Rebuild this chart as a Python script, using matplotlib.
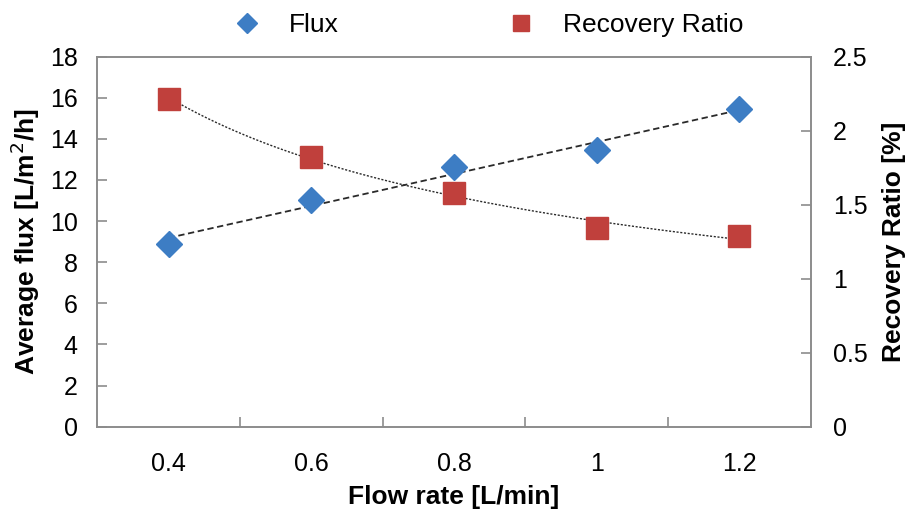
import numpy as np
import matplotlib
matplotlib.use('Agg')
import matplotlib.pyplot as plt
from matplotlib.lines import Line2D

plt.rcParams['font.family'] = ['Liberation Sans', 'DejaVu Sans']

# data
flow_rate = [0.4, 0.6, 0.8, 1.0, 1.2]
flux = [8.9, 11.0, 12.65, 13.45, 15.45]
recovery = [2.215, 1.82, 1.575, 1.345, 1.285]

flux_ticks = [0, 2, 4, 6, 8, 10, 12, 14, 16, 18]
rec_ticks = [0, 0.5, 1, 1.5, 2, 2.5]
rec_labels = ['0', '0.5', '1', '1.5', '2', '2.5']
x_ticks = [0.4, 0.6, 0.8, 1.0, 1.2]
x_labels = ['0.4', '0.6', '0.8', '1', '1.2']
x_bounds = [0.5, 0.7, 0.9, 1.1]   # category boundaries where the tick marks sit

blue = '#3d7dc4'
red = '#c0403c'
frame = '#8c8c8c'

fig = plt.figure(figsize=(9.09, 5.14), dpi=100)
ax = fig.add_axes([0.107, 0.17, 0.785, 0.72])
ax2 = ax.twinx()

x = np.array(flow_rate)
xs = np.linspace(0.4, 1.2, 100)

# linear trendline for flux
p = np.polyfit(x, flux, 1)
ax.plot(xs, np.polyval(p, xs), color='#2a2a2a', lw=1.3, ls=(0, (3.5, 2)), zorder=2)
ax.plot(x, flux, ls='none', marker='D', ms=13, color=blue, zorder=3)

# power trendline for recovery ratio
b, lna = np.polyfit(np.log(x), np.log(recovery), 1)
ax2.plot(xs, np.exp(lna) * xs ** b, color='#2a2a2a', lw=1.0, ls=(0, (1.5, 1.2)), zorder=2)
ax2.plot(x, recovery, ls='none', marker='s', ms=16, color=red, zorder=3)

ax.set_xlim(0.3, 1.3)
ax.set_ylim(0, 18)
ax2.set_ylim(0, 2.5)
ax.set_xticks(x_ticks)
ax.set_xticklabels(x_labels)
ax.set_xticks(x_bounds, minor=True)
ax.set_yticks(flux_ticks)
ax2.set_yticks(rec_ticks)
ax2.set_yticklabels(rec_labels)

for a in (ax, ax2):
    for s in a.spines.values():
        s.set_color(frame)
        s.set_linewidth(1.2)
    a.tick_params(direction='in', length=7, color=frame, labelsize=18, width=1.2)
ax.tick_params(axis='x', which='major', length=0, pad=18)
ax.tick_params(axis='x', which='minor', direction='in', length=7, color=frame, width=1.2)
ax.tick_params(axis='y', pad=14)
ax2.tick_params(axis='y', pad=16)

ax.set_xlabel('Flow rate [L/min]', fontsize=19, fontweight='bold', labelpad=7)
ax.set_ylabel('Average flux [L/m$^2$/h]', fontsize=19, fontweight='bold', labelpad=6)
ax2.set_ylabel('Recovery Ratio [%]', fontsize=19, fontweight='bold', labelpad=10)

handles = [Line2D([], [], ls='none', marker='D', ms=10, color=blue, label='Flux'),
           Line2D([], [], ls='none', marker='s', ms=12, color=red, label='Recovery Ratio')]
fig.legend(handles=handles, loc='upper center', bbox_to_anchor=(0.53, 1.02), ncol=2,
           frameon=False, fontsize=19, columnspacing=5.9, handletextpad=0.6)

fig.savefig('out.png', dpi=100)
